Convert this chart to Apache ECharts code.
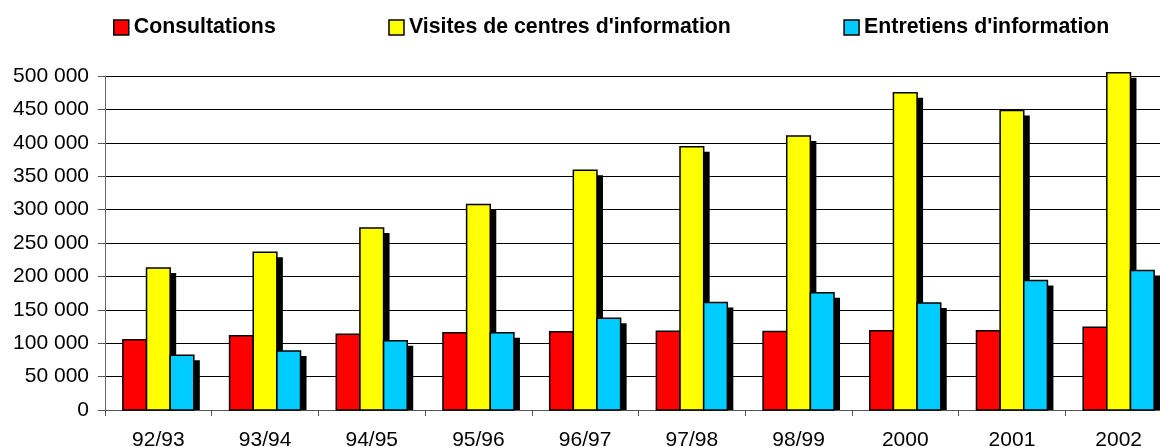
<!DOCTYPE html>
<html>
<head>
<meta charset="utf-8">
<script src="https://cdn.jsdelivr.net/npm/echarts@6/dist/echarts.min.js"></script>
<style>
html,body{margin:0;padding:0;background:#fff;}
#chart{width:1160px;height:447px;}
</style>
</head>
<body>
<div id="chart"></div>
<script>
const categories = ['92/93','93/94','94/95','95/96','96/97','97/98','98/99','2000','2001','2002'];
const consultations = [105000,111000,113500,115500,117000,118000,117500,118500,118500,124000];
const visites = [212500,236000,272500,307500,359000,394000,410000,475000,448500,505000];
const entretiens = [82000,88500,103500,115500,137500,161000,175500,160000,194000,209000];
const seriesNames = ['Consultations',"Visites de centres d'information","Entretiens d'information"];
const colors = ['#FF0000','#FFFF00','#00CCFF'];

const FONT = '"Liberation Sans", Arial, sans-serif';
const chart = echarts.init(document.getElementById('chart'), null, {renderer:'canvas'});

function fmt(v){ return String(v).replace(/\B(?=(\d{3})+(?!\d))/g, ' '); }

const CAT_GAP = 0.335;   // fraction of category band left empty
const SH_X = 6, SH_Y = 5; // drop shadow offset
const dataSets = [consultations, visites, entretiens];
const nSeries = dataSets.length;

function makeRender(si){
  return function(params, api){
    const ci = api.value(0);
    const val = api.value(1);
    const base = api.coord([ci, 0]);
    const top = api.coord([ci, val]);
    const band = api.size([1, 0])[0];
    const bw = band * (1 - CAT_GAP) / nSeries;
    const x = base[0] - bw * nSeries / 2 + si * bw;
    const h = base[1] - top[1];
    return {
      type: 'group',
      children: [
        {type:'rect', shape:{x: x + SH_X, y: top[1] + SH_Y, width: bw, height: Math.max(0, h - SH_Y)}, style:{fill:'#000'}},
        {type:'rect', shape:{x: x, y: top[1], width: bw, height: h}, style:{fill: colors[si], stroke:'#000', lineWidth:1.5}}
      ]
    };
  };
}

const series = dataSets.map((d,i)=>({
  name: seriesNames[i],
  type: 'custom',
  renderItem: makeRender(i),
  encode: {x: 0, y: 1},
  data: d.map((v,j)=>[j, v]),
  itemStyle: {color: colors[i], borderColor:'#000', borderWidth:1.5}
}));

chart.setOption({
  animation: false,
  backgroundColor: '#fff',
  textStyle: {fontFamily: FONT, color:'#000'},
  legend: {
    left: 113,
    top: 17,
    padding: 0,
    itemWidth: 15,
    itemHeight: 15,
    itemGap: 112.5,
    icon: 'rect',
    textStyle: {fontFamily: FONT, fontSize: 21.3, fontWeight: 'bold', color: '#000'},
    itemStyle: {borderColor:'#000', borderWidth:1.5},
    data: seriesNames
  },
  grid: {left: 105, right: -12, top: 76, bottom: 37, containLabel: false, outerBoundsMode: 'none'},
  xAxis: {
    type: 'category',
    data: categories,
    axisLine: {lineStyle: {color:'#555', width:1}},
    axisTick: {show:true, length:6, lineStyle:{color:'#555'}},
    axisLabel: {fontFamily: FONT, fontSize: 21, color:'#000', margin: 20}
  },
  yAxis: {
    type: 'value',
    min: 0, max: 500000, interval: 50000,
    axisLine: {show:true, lineStyle: {color:'#666', width:1}},
    axisTick: {show:true, length:7, lineStyle:{color:'#555'}},
    splitLine: {show:true, lineStyle:{color:'#000', width:1}},
    axisLabel: {fontFamily: FONT, fontSize: 21, color:'#000', margin: 16, formatter: fmt}
  },
  series: series
});
</script>
</body>
</html>
